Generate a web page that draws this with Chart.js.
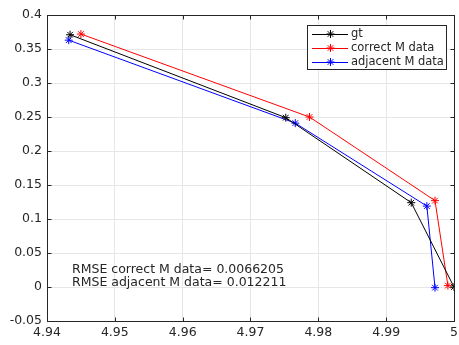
<!DOCTYPE html>
<html>
<head>
<meta charset="utf-8">
<script src="https://cdn.jsdelivr.net/npm/chart.js@4.4.0/dist/chart.umd.min.js"></script>
<style>
  html, body { margin: 0; padding: 0; background: #fff; }
  #wrap { width: 459px; height: 345px; position: relative; }
</style>
</head>
<body>
<div id="wrap"><canvas id="rmseChart"></canvas></div>
<script>
// Data
const gtX = [4.9434, 4.9752, 4.9937, 5.0];
const gtY = [0.371, 0.249, 0.124, 0.0];
const correctX = [4.9450, 4.9787, 4.9972, 4.9991];
const correctY = [0.372, 0.250, 0.127, 0.002];
const adjacentX = [4.9432, 4.9766, 4.9960, 4.9972];
const adjacentY = [0.363, 0.241, 0.119, -0.001];

const seriesNames = ["gt", "correct M data", "adjacent M data"];
const seriesColors = ["#000000", "#ff0000", "#0000ff"];

const xTicks = [4.94, 4.95, 4.96, 4.97, 4.98, 4.99, 5];
const yTicks = [-0.05, 0, 0.05, 0.1, 0.15, 0.2, 0.25, 0.3, 0.35, 0.4];

const rmseLines = [
  "RMSE correct M data= 0.0066205",
  "RMSE adjacent M data= 0.012211",
];

const FONT = "DejaVu Sans";
const AXIS_COLOR = "#262626";

function toPoints(xs, ys) {
  return xs.map((x, i) => ({ x: x, y: ys[i] }));
}

const allX = [gtX, correctX, adjacentX];
const allY = [gtY, correctY, adjacentY];

const datasets = seriesNames.map((name, i) => ({
  label: name,
  data: toPoints(allX[i], allY[i]),
  showLine: true,
  borderColor: seriesColors[i],
  backgroundColor: seriesColors[i],
  borderWidth: 1,
  pointStyle: "star",
  pointRadius: 4,
  pointBorderWidth: 1,
  pointBorderColor: seriesColors[i],
  tension: 0,
}));

// Kotak sumbu, tick ke dalam, legend dan teks RMSE
const matlabPlugin = {
  id: "matlabStuff",
  afterDraw(chart) {
    const ctx = chart.ctx;
    const a = chart.chartArea;
    const L = Math.round(a.left) + 0.5, R = Math.round(a.right) + 0.5;
    const T = Math.round(a.top) + 0.5, B = Math.round(a.bottom) + 0.5;
    ctx.save();
    ctx.strokeStyle = AXIS_COLOR;
    ctx.lineWidth = 1;
    ctx.strokeRect(L, T, R - L, B - T);

    // tick ke dalam (gaya MATLAB)
    const xs = chart.scales.x, ys = chart.scales.y;
    ctx.beginPath();
    xTicks.forEach((v) => {
      const px = Math.round(xs.getPixelForValue(v)) + 0.5;
      ctx.moveTo(px, B); ctx.lineTo(px, B - 4);
      ctx.moveTo(px, T); ctx.lineTo(px, T + 4);
    });
    yTicks.forEach((v) => {
      const py = Math.round(ys.getPixelForValue(v)) + 0.5;
      ctx.moveTo(L, py); ctx.lineTo(L + 4, py);
      ctx.moveTo(R, py); ctx.lineTo(R - 4, py);
    });
    ctx.stroke();

    // Legend
    const lx = 307, ly = 25, lw = 139, lh = 44;
    ctx.fillStyle = "#ffffff";
    ctx.fillRect(lx, ly, lw, lh);
    ctx.strokeStyle = AXIS_COLOR;
    ctx.strokeRect(lx + 0.5, ly + 0.5, lw, lh);
    ctx.font = "11.5px '" + FONT + "'";
    ctx.textBaseline = "middle";
    ctx.textAlign = "left";
    seriesNames.forEach((name, i) => {
      const y = ly + 9 + i * 14;
      ctx.strokeStyle = seriesColors[i];
      ctx.beginPath();
      ctx.moveTo(lx + 5, y + 0.5);
      ctx.lineTo(lx + 41, y + 0.5);
      ctx.stroke();
      // penanda bintang
      const cx = lx + 23.5, r = 4;
      ctx.beginPath();
      ctx.moveTo(cx - r, y); ctx.lineTo(cx + r, y);
      ctx.moveTo(cx, y - r); ctx.lineTo(cx, y + r);
      ctx.moveTo(cx - r * 0.7, y - r * 0.7); ctx.lineTo(cx + r * 0.7, y + r * 0.7);
      ctx.moveTo(cx - r * 0.7, y + r * 0.7); ctx.lineTo(cx + r * 0.7, y - r * 0.7);
      ctx.stroke();
      ctx.fillStyle = AXIS_COLOR;
      ctx.fillText(name, lx + 44, y);
    });

    // Teks RMSE
    ctx.fillStyle = AXIS_COLOR;
    ctx.font = "12.5px '" + FONT + "'";
    rmseLines.forEach((t, i) => {
      ctx.fillText(t, 72, 270 + i * 13);
    });
    ctx.restore();
  },
};

new Chart(document.getElementById("rmseChart"), {
  type: "scatter",
  data: { datasets: datasets },
  plugins: [matlabPlugin],
  options: {
    responsive: true,
    maintainAspectRatio: false,
    animation: false,
    layout: { padding: { top: 15, right: 0, left: 0, bottom: 0 } },
    plugins: {
      legend: { display: false },
      tooltip: { enabled: false },
    },
    scales: {
      x: {
        type: "linear",
        min: 4.94,
        max: 5,
        afterBuildTicks: (scale) => {
          scale.ticks = xTicks.map((v) => ({ value: v }));
        },
        afterFit: (scale) => {
          scale.height = 24;
          scale.paddingRight = 2;
        },
        grid: { color: "#e6e6e6", drawTicks: false },
        border: { color: AXIS_COLOR },
        ticks: {
          color: AXIS_COLOR,
          padding: 4,
          maxRotation: 0,
          font: { family: FONT, size: 12.5 },
          callback: (v) => String(Number(v.toFixed(2))),
        },
      },
      y: {
        type: "linear",
        min: -0.05,
        max: 0.4,
        afterBuildTicks: (scale) => {
          scale.ticks = yTicks.map((v) => ({ value: v }));
        },
        afterFit: (scale) => { scale.width = 47; },
        grid: { color: "#e6e6e6", drawTicks: false },
        border: { color: AXIS_COLOR },
        ticks: {
          color: AXIS_COLOR,
          padding: 5,
          font: { family: FONT, size: 12.5 },
          callback: (v) => String(Number(v.toFixed(2))),
        },
      },
    },
  },
});
</script>
</body>
</html>
